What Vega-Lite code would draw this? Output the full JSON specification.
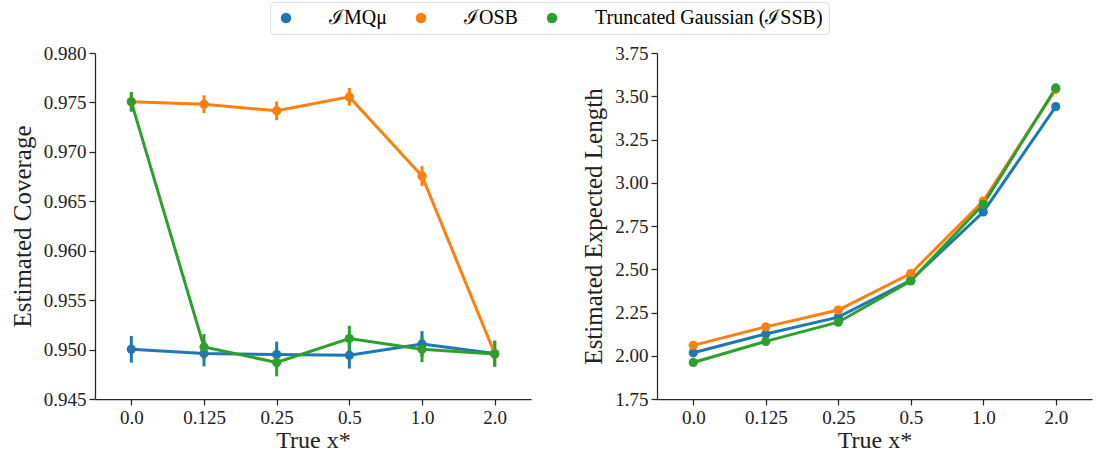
{
  "$schema": "https://vega.github.io/schema/vega-lite/v6.json",
  "padding": {"left": 10, "top": 1, "right": 5, "bottom": 0},
  "config": {
    "font": "Liberation Serif",
    "view": {"stroke": null},
    "axis": {"labelFont": "Liberation Serif", "titleFont": "Liberation Serif", "labelFontSize": 19, "titleFontSize": 25, "titleFontWeight": "normal", "labelColor": "#222222", "titleColor": "#222222", "domainColor": "#262626", "tickColor": "#262626", "domainWidth": 1.25, "tickWidth": 1.25, "tickSize": 6, "grid": false, "labelPadding": 3},
    "legend": {"labelFont": "Liberation Serif", "labelFontSize": 20, "labelLimit": 0}
  },
  "datasets": {
    "coverage": [
      {"x": "0.0", "series": "ℐMQμ", "v": 0.95003, "lo": 0.94868, "hi": 0.95138},
      {"x": "0.125", "series": "ℐMQμ", "v": 0.94960, "lo": 0.94830, "hi": 0.95090},
      {"x": "0.25", "series": "ℐMQμ", "v": 0.94950, "lo": 0.94820, "hi": 0.95080},
      {"x": "0.5", "series": "ℐMQμ", "v": 0.94943, "lo": 0.94808, "hi": 0.95078},
      {"x": "1.0", "series": "ℐMQμ", "v": 0.95057, "lo": 0.94927, "hi": 0.95187},
      {"x": "2.0", "series": "ℐMQμ", "v": 0.94960, "lo": 0.94830, "hi": 0.95090},
      {"x": "0.0", "series": "ℐOSB", "v": 0.97506, "lo": 0.97416, "hi": 0.97596},
      {"x": "0.125", "series": "ℐOSB", "v": 0.97482, "lo": 0.97392, "hi": 0.97572},
      {"x": "0.25", "series": "ℐOSB", "v": 0.97415, "lo": 0.97320, "hi": 0.97510},
      {"x": "0.5", "series": "ℐOSB", "v": 0.97556, "lo": 0.97466, "hi": 0.97646},
      {"x": "1.0", "series": "ℐOSB", "v": 0.96756, "lo": 0.96656, "hi": 0.96856},
      {"x": "2.0", "series": "ℐOSB", "v": 0.94960, "lo": 0.94830, "hi": 0.95090},
      {"x": "0.0", "series": "Truncated Gaussian (ℐSSB)", "v": 0.97506, "lo": 0.97406, "hi": 0.97606},
      {"x": "0.125", "series": "Truncated Gaussian (ℐSSB)", "v": 0.95027, "lo": 0.94897, "hi": 0.95157},
      {"x": "0.25", "series": "Truncated Gaussian (ℐSSB)", "v": 0.94869, "lo": 0.94729, "hi": 0.95009},
      {"x": "0.5", "series": "Truncated Gaussian (ℐSSB)", "v": 0.95111, "lo": 0.94981, "hi": 0.95241},
      {"x": "1.0", "series": "Truncated Gaussian (ℐSSB)", "v": 0.95003, "lo": 0.94873, "hi": 0.95133},
      {"x": "2.0", "series": "Truncated Gaussian (ℐSSB)", "v": 0.94956, "lo": 0.94826, "hi": 0.95086}
    ],
    "length": [
      {"x": "0.0", "series": "ℐMQμ", "v": 2.017},
      {"x": "0.125", "series": "ℐMQμ", "v": 2.126},
      {"x": "0.25", "series": "ℐMQμ", "v": 2.223},
      {"x": "0.5", "series": "ℐMQμ", "v": 2.436},
      {"x": "1.0", "series": "ℐMQμ", "v": 2.831},
      {"x": "2.0", "series": "ℐMQμ", "v": 3.440},
      {"x": "0.0", "series": "ℐOSB", "v": 2.060},
      {"x": "0.125", "series": "ℐOSB", "v": 2.167},
      {"x": "0.25", "series": "ℐOSB", "v": 2.264},
      {"x": "0.5", "series": "ℐOSB", "v": 2.475},
      {"x": "1.0", "series": "ℐOSB", "v": 2.894},
      {"x": "2.0", "series": "ℐOSB", "v": 3.540},
      {"x": "0.0", "series": "Truncated Gaussian (ℐSSB)", "v": 1.961},
      {"x": "0.125", "series": "Truncated Gaussian (ℐSSB)", "v": 2.083},
      {"x": "0.25", "series": "Truncated Gaussian (ℐSSB)", "v": 2.194},
      {"x": "0.5", "series": "Truncated Gaussian (ℐSSB)", "v": 2.432},
      {"x": "1.0", "series": "Truncated Gaussian (ℐSSB)", "v": 2.875},
      {"x": "2.0", "series": "Truncated Gaussian (ℐSSB)", "v": 3.548}
    ]
  },
  "spacing": 50,
  "hconcat": [
    {
      "width": 436,
      "height": 346,
      "data": {"name": "coverage"},
      "encoding": {
        "x": {"field": "x", "type": "ordinal", "sort": ["0.0", "0.125", "0.25", "0.5", "1.0", "2.0"], "scale": {"type": "point", "padding": 0.5}, "axis": {"title": "True x*", "labelAngle": 0, "titlePadding": 1, "titleFontSize": 24}},
        "color": {"field": "series", "type": "nominal", "scale": {"domain": ["ℐMQμ", "ℐOSB", "Truncated Gaussian (ℐSSB)"], "range": ["#1f77b4", "#ff7f0e", "#2ca02c"]},
          "legend": {"title": null, "orient": "none", "direction": "horizontal", "legendX": 175, "legendY": -51, "symbolType": "circle", "symbolSize": 110, "symbolStrokeWidth": 0, "labelOffset": 33, "columnPadding": 24, "padding": 6, "strokeColor": "#dddddd", "cornerRadius": 4, "fillColor": "white"}}
      },
      "layer": [
        {"mark": {"type": "rule", "strokeWidth": 3}, "encoding": {"y": {"field": "lo", "type": "quantitative"}, "y2": {"field": "hi"}}},
        {"mark": {"type": "line", "strokeWidth": 3}, "encoding": {"y": {"field": "v", "type": "quantitative", "scale": {"domain": [0.945, 0.98], "zero": false, "nice": false}, "axis": {"title": "Estimated Coverage", "values": [0.945, 0.95, 0.955, 0.96, 0.965, 0.97, 0.975, 0.98], "format": ".3f", "titlePadding": 8}}}},
        {"mark": {"type": "point", "filled": true, "opacity": 1, "size": 85, "shape": "circle"}, "encoding": {"y": {"field": "v", "type": "quantitative"}}}
      ]
    },
    {
      "width": 435,
      "height": 346,
      "data": {"name": "length"},
      "encoding": {
        "x": {"field": "x", "type": "ordinal", "sort": ["0.0", "0.125", "0.25", "0.5", "1.0", "2.0"], "scale": {"type": "point", "padding": 0.5}, "axis": {"title": "True x*", "labelAngle": 0, "titlePadding": 1, "titleFontSize": 24}},
        "color": {"field": "series", "type": "nominal", "scale": {"domain": ["ℐMQμ", "ℐOSB", "Truncated Gaussian (ℐSSB)"], "range": ["#1f77b4", "#ff7f0e", "#2ca02c"]}}
      },
      "layer": [
        {"mark": {"type": "line", "strokeWidth": 3}, "encoding": {"y": {"field": "v", "type": "quantitative", "scale": {"domain": [1.75, 3.75], "zero": false, "nice": false}, "axis": {"title": "Estimated Expected Length", "values": [1.75, 2.0, 2.25, 2.5, 2.75, 3.0, 3.25, 3.5, 3.75], "format": ".2f", "titlePadding": 8}}}},
        {"mark": {"type": "point", "filled": true, "opacity": 1, "size": 85, "shape": "circle"}, "encoding": {"y": {"field": "v", "type": "quantitative"}}}
      ]
    }
  ],
  "resolve": {"scale": {"color": "shared"}}
}
